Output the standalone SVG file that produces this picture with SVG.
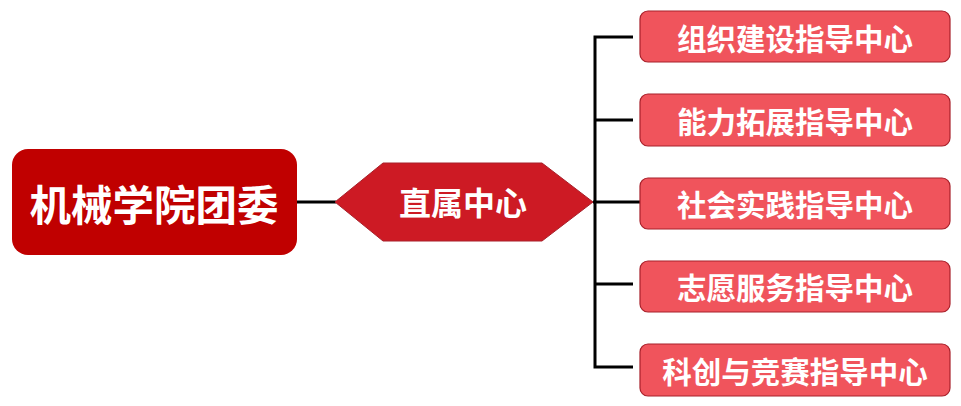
<svg xmlns="http://www.w3.org/2000/svg" width="961" height="406" viewBox="0 0 961 406">
<style>
text{font-family:"Noto Sans CJK SC","Noto Sans",sans-serif;font-weight:bold;fill:#fff;text-anchor:middle;dominant-baseline:central}
.c rect{fill:#F0545C;stroke:#A8202A;stroke-width:1.2}
.c text{font-size:29.5px}
.ln{stroke:#000;stroke-width:3;fill:none}
</style>
<rect width="961" height="406" fill="#fff"/>
<g id="connectors">
<line class="ln" x1="297" y1="202" x2="336" y2="202"/>
<line class="ln" x1="593" y1="202" x2="640" y2="202"/>
<polyline class="ln" points="633,37 595,37 595,367 633,367"/>
<line class="ln" x1="595" y1="120" x2="633" y2="120"/>
<line class="ln" x1="595" y1="284" x2="633" y2="284"/>
</g>
<g id="root">
<rect x="12" y="149" width="285" height="106" rx="16" fill="#C00000"/>
<text x="154" y="203" font-size="41.5">机械学院团委</text>
</g>
<g id="direct">
<polygon points="335,202 383,163 542,163 593,202 542,241 383,241" fill="#CD1A24" stroke="#A8202A" stroke-width="1"/>
<text x="463" y="201" font-size="32">直属中心</text>
</g>
<g id="c1" class="c"><rect x="640" y="11" width="310" height="51" rx="8"/><text x="795" y="37">组织建设指导中心</text></g>
<g id="c2" class="c"><rect x="640" y="94" width="310" height="52" rx="8"/><text x="795" y="120">能力拓展指导中心</text></g>
<g id="c3" class="c"><rect x="640" y="178" width="310" height="51" rx="8"/><text x="795" y="203">社会实践指导中心</text></g>
<g id="c4" class="c"><rect x="640" y="261" width="310" height="51" rx="8"/><text x="795" y="286">志愿服务指导中心</text></g>
<g id="c5" class="c"><rect x="640" y="344" width="310" height="52" rx="8"/><text x="795" y="370">科创与竞赛指导中心</text></g>
</svg>
